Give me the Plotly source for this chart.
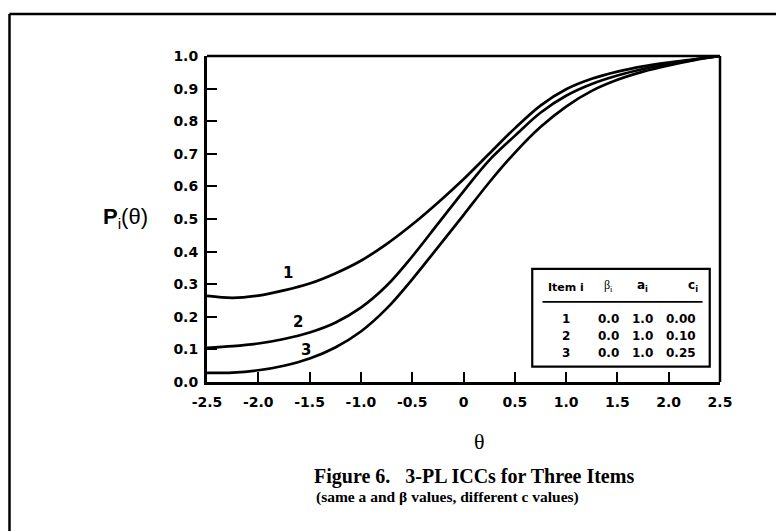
import plotly.graph_objects as go

# ---- data ----
theta = [-2.5, -2.25, -2.0, -1.75, -1.5, -1.25, -1.0, -0.75, -0.5, -0.25, 0.0,
         0.25, 0.5, 0.75, 1.0, 1.25, 1.5, 1.75, 2.0, 2.25, 2.5]
p_item1 = [0.264, 0.258, 0.265, 0.281, 0.302, 0.333, 0.372, 0.423, 0.483, 0.550, 0.622,
           0.700, 0.778, 0.848, 0.898, 0.930, 0.952, 0.968, 0.980, 0.990, 1.000]
p_item2 = [0.105, 0.110, 0.118, 0.132, 0.152, 0.182, 0.228, 0.295, 0.385, 0.485, 0.585,
           0.680, 0.755, 0.826, 0.878, 0.914, 0.940, 0.960, 0.976, 0.989, 1.000]
p_item3 = [0.028, 0.029, 0.036, 0.050, 0.072, 0.106, 0.155, 0.225, 0.315, 0.413, 0.512,
           0.612, 0.703, 0.782, 0.845, 0.893, 0.927, 0.952, 0.971, 0.987, 1.000]
curve_labels = ["1", "2", "3"]

x_ticks = [-2.5, -2.0, -1.5, -1.0, -0.5, 0.0, 0.5, 1.0, 1.5, 2.0, 2.5]
x_ticktext = ["-2.5", "-2.0", "-1.5", "-1.0", "-0.5", "0", "0.5", "1.0", "1.5", "2.0", "2.5"]
y_ticks = [0.0, 0.1, 0.2, 0.3, 0.4, 0.5, 0.6, 0.7, 0.8, 0.9, 1.0]
y_ticktext = ["0.0", "0.1", "0.2", "0.3", "0.4", "0.5", "0.6", "0.7", "0.8", "0.9", "1.0"]

table_items = ["1", "2", "3"]
table_beta = ["0.0", "0.0", "0.0"]
table_a = ["1.0", "1.0", "1.0"]
table_c = ["0.00", "0.10", "0.25"]

# ---- figure geometry (page has an 8px body margin) ----
OFF = 8
W, H = 784 - OFF, 531 - OFF
L, T = 207 - OFF, 56 - OFF
R = W - (720 - OFF)
B = H - (382 - OFF)
PW, PH = W - L - R, H - T - B


def wx(x):  # window pixel -> paper x
    return (x - OFF - L) / PW


def wy(y):  # window pixel -> paper y
    return (H - B - (y - OFF)) / PH


fig = go.Figure()
for ys in (p_item1, p_item2, p_item3):
    fig.add_trace(go.Scatter(x=theta, y=ys, mode="lines",
                             line=dict(color="black", width=2.7, shape="spline", smoothing=1.0),
                             showlegend=False, hoverinfo="skip"))

BOLDF = "DejaVu Sans, Arial, sans-serif"
SERIF = "Liberation Serif, Times New Roman, serif"

ann = []
# curve labels
lab_pos = [(-1.71, 0.335), (-1.61, 0.185), (-1.54, 0.098)]
for t, (lx, ly) in zip(curve_labels, lab_pos):
    ann.append(dict(x=lx, y=ly, xref="x", yref="y", text="<b>%s</b>" % t, showarrow=False,
                    xanchor="center", yanchor="middle",
                    font=dict(size=15, family=BOLDF, color="black")))

# table
col_x = [1.0, 1.41, 1.74, 2.12]
hdr_y = 0.29


def tab(x, y, text, size=12, family=BOLDF):
    ann.append(dict(x=x, y=y, xref="x", yref="y", text=text, showarrow=False,
                    xanchor="center", yanchor="middle",
                    font=dict(size=size, family=family, color="black")))


tab(col_x[0], hdr_y, "<b>Item i</b>", size=11)
tab(col_x[1], hdr_y + 0.006, "β<sub>i</sub>", family="Liberation Serif, serif")
tab(col_x[2], hdr_y + 0.006, "<b>a<sub>i</sub></b>")
tab(col_x[3] + 0.12, hdr_y + 0.006, "<b>c<sub>i</sub></b>")
row_y = [0.193, 0.140, 0.089]
for i, ry in enumerate(row_y):
    for cx, val in zip(col_x, (table_items[i], table_beta[i], table_a[i], table_c[i])):
        tab(cx, ry, "<b>%s</b>" % val)

# axis titles and caption
ann.append(dict(x=wx(150), y=wy(218), xref="paper", yref="paper", showarrow=False,
                xanchor="right", yanchor="middle",
                text="<b>P</b><sub>i</sub>(θ)",
                font=dict(size=22, family="Liberation Sans, Arial, sans-serif", color="black")))
ann.append(dict(x=wx(479), y=wy(441), xref="paper", yref="paper", showarrow=False,
                xanchor="center", yanchor="middle", text="θ",
                font=dict(size=22, family=SERIF, color="black")))
ann.append(dict(x=wx(312), y=wy(477), xref="paper", yref="paper", showarrow=False,
                xanchor="left", yanchor="middle",
                text="<b>Figure 6.&nbsp;&nbsp; 3-PL ICCs for Three Items</b>",
                font=dict(size=20, family=SERIF, color="black")))
ann.append(dict(x=wx(314), y=wy(497), xref="paper", yref="paper", showarrow=False,
                xanchor="left", yanchor="middle",
                text="<b>(same a and β values, different c values)</b>",
                font=dict(size=15.5, family=SERIF, color="black")))

shapes = [
    # plot frame top & right
    dict(type="line", xref="paper", yref="paper", x0=0, x1=1, y0=1, y1=1, line=dict(color="black", width=2.5)),
    dict(type="line", xref="paper", yref="paper", x0=1, x1=1, y0=0, y1=1, line=dict(color="black", width=2.5)),
    # table box and header rule
    dict(type="rect", xref="x", yref="y", x0=0.67, x1=2.40, y0=0.047, y1=0.347,
         line=dict(color="black", width=2.2), fillcolor="white", layer="below"),
    dict(type="line", xref="x", yref="y", x0=0.77, x1=2.33, y0=0.246, y1=0.246,
         line=dict(color="black", width=1.8)),
    # outer figure border
    dict(type="line", xref="paper", yref="paper", x0=wx(9.5), x1=wx(9.5), y0=wy(14), y1=wy(560),
         line=dict(color="black", width=2.5)),
    dict(type="line", xref="paper", yref="paper", x0=wx(9.5), x1=wx(800), y0=wy(14), y1=wy(14),
         line=dict(color="black", width=2.5)),
]

fig.update_layout(
    width=W, height=H,
    margin=dict(l=L, r=R, t=T, b=B, pad=0),
    paper_bgcolor="white", plot_bgcolor="white",
    showlegend=False,
    annotations=ann, shapes=shapes,
    font=dict(family=BOLDF, color="black"),
)
fig.update_xaxes(range=[-2.5, 2.5], tickvals=x_ticks, ticktext=x_ticktext,
                 ticks="inside", ticklen=10, tickwidth=2, tickcolor="black",
                 showline=True, linewidth=3, linecolor="black", mirror=False,
                 showgrid=False, zeroline=False, ticklabelstandoff=5,
                 tickfont=dict(size=14, family=BOLDF, color="black", weight="bold"))
fig.update_yaxes(range=[0, 1], tickvals=y_ticks, ticktext=y_ticktext,
                 ticks="inside", ticklen=10, tickwidth=2, tickcolor="black",
                 showline=True, linewidth=3, linecolor="black", mirror=False,
                 showgrid=False, zeroline=False, ticklabelstandoff=3,
                 tickfont=dict(size=14, family=BOLDF, color="black", weight="bold"))

fig.write_html("out.html")
